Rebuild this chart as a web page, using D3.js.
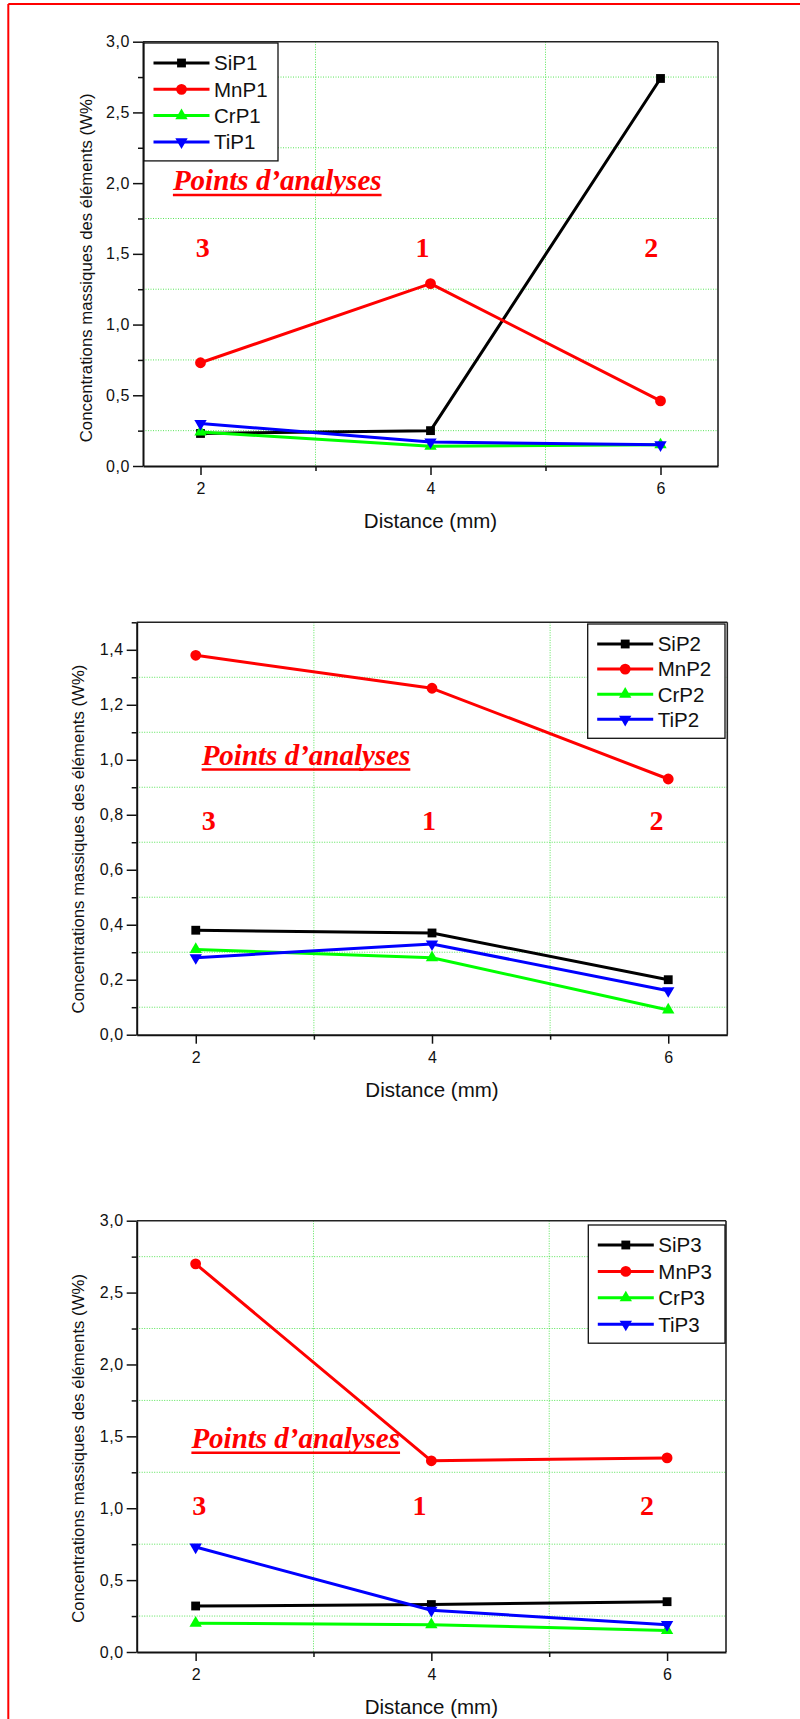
<!DOCTYPE html>
<html>
<head>
<meta charset="utf-8">
<script src="https://cdnjs.cloudflare.com/ajax/libs/d3/7.8.5/d3.min.js"></script>
<style>
  body { margin: 0; background: #fff; }
  svg { display: block; }
  .tick text { font-family: "Liberation Sans", Arial, sans-serif; fill: #111; }
</style>
</head>
<body>
<script>
// distances (mm)
var distance = [2, 4, 6];
var xTicks = [2, 4, 6];
var xMinor = [3, 5];

// chart 1
var names1 = ["SiP1", "MnP1", "CrP1", "TiP1"];
var si1 = [0.23, 0.25, 2.74];
var mn1 = [0.73, 1.29, 0.46];
var cr1 = [0.24, 0.14, 0.15];
var ti1 = [0.30, 0.17, 0.15];

// chart 2
var names2 = ["SiP2", "MnP2", "CrP2", "TiP2"];
var si2 = [0.38, 0.37, 0.20];
var mn2 = [1.38, 1.26, 0.93];
var cr2 = [0.31, 0.28, 0.09];
var ti2 = [0.28, 0.33, 0.16];

// chart 3
var names3 = ["SiP3", "MnP3", "CrP3", "TiP3"];
var si3 = [0.32, 0.33, 0.35];
var mn3 = [2.70, 1.33, 1.35];
var cr3 = [0.20, 0.19, 0.15];
var ti3 = [0.73, 0.29, 0.19];

var yTicksA = [0, 0.5, 1.0, 1.5, 2.0, 2.5, 3.0];
var yMinorA = [0.25, 0.75, 1.25, 1.75, 2.25, 2.75];
var yTicksB = [0, 0.2, 0.4, 0.6, 0.8, 1.0, 1.2, 1.4];
var yMinorB = [0.1, 0.3, 0.5, 0.7, 0.9, 1.1, 1.3, 1.5];

var pointLabels = ["3", "1", "2"];
var yTitle = "Concentrations massiques des éléments (W%)";
var xTitle = "Distance (mm)";
var noteText = "Points d’analyses";

var colors = ["#000000", "#ff0000", "#00ff00", "#0000ff"];
var symbols = [
  {type: d3.symbolSquare, size: 78, rot: 0},
  {type: d3.symbolCircle, size: 92, rot: 0},
  {type: d3.symbolTriangle, size: 66, rot: 0},
  {type: d3.symbolTriangle, size: 66, rot: 180}
];

var sans = '"Liberation Sans", Arial, sans-serif';
var serif = '"Liberation Serif", "Times New Roman", serif';

var charts = [
  {names: names1, series: [si1, mn1, cr1, ti1], yMax: 3, yTicks: yTicksA, yMinor: yMinorA,
   left: 143, right: 718, top: 41.7, bottom: 466,
   legend: {x: 144, y: 43, w: 134, step: 26.3},
   yTitleX: 86, yTitleShift: 14,
   note: {x: 1.76, y: 1.948}, nums: {x: [2.02, 3.93, 5.92], y: 1.478}},
  {names: names2, series: [si2, mn2, cr2, ti2], yMax: 1.5, yTicks: yTicksB, yMinor: yMinorB,
   left: 136.7, right: 727.3, top: 622.3, bottom: 1034.7,
   legend: {x: 587.7, y: 624, w: 137.3, step: 25.1},
   yTitleX: 78, yTitleShift: 10.5,
   note: {x: 2.05, y: 0.981}, nums: {x: [2.11, 3.975, 5.90], y: 0.744}},
  {names: names3, series: [si3, mn3, cr3, ti3], yMax: 3, yTicks: yTicksA, yMinor: yMinorA,
   left: 136.7, right: 726, top: 1220.7, bottom: 1652,
   legend: {x: 588.3, y: 1225, w: 136.7, step: 26.4},
   yTitleX: 78, yTitleShift: 12,
   note: {x: 1.964, y: 1.417}, nums: {x: [2.03, 3.90, 5.83], y: 0.953}}
];

var W = 800, H = 1719;
var svg = d3.select("body").append("svg")
    .attr("width", W)
    .attr("height", H);

// red frame
svg.append("line").attr("x1", 8.3).attr("x2", W).attr("y1", 4).attr("y2", 4)
    .attr("stroke", "#ff0000").attr("stroke-width", 2);
svg.append("line").attr("x1", 8.3).attr("x2", 8.3).attr("y1", 4).attr("y2", H)
    .attr("stroke", "#ff0000").attr("stroke-width", 2);

var fmt = function(v) { return d3.format(".1f")(v).replace(".", ","); };

charts.forEach(function(c) {
  var x = d3.scaleLinear().domain([1.5, 6.5]).range([c.left, c.right]);
  var y = d3.scaleLinear().domain([0, c.yMax]).range([c.bottom, c.top]);
  var g = svg.append("g");

  // grid
  g.selectAll("line.hgrid").data(c.yMinor.filter(function(v) { return v < c.yMax; }))
    .enter().append("line").attr("class", "hgrid")
    .attr("x1", c.left).attr("x2", c.right)
    .attr("y1", function(d) { return y(d); }).attr("y2", function(d) { return y(d); })
    .attr("stroke", "#22dd22").attr("stroke-width", 1).attr("stroke-dasharray", "1,1.5").attr("opacity", 0.75);
  g.selectAll("line.vgrid").data(xMinor)
    .enter().append("line").attr("class", "vgrid")
    .attr("y1", c.top).attr("y2", c.bottom)
    .attr("x1", function(d) { return x(d); }).attr("x2", function(d) { return x(d); })
    .attr("stroke", "#22dd22").attr("stroke-width", 1).attr("stroke-dasharray", "1,1.5").attr("opacity", 0.75);

  // box top / right
  g.append("line").attr("x1", c.left).attr("x2", c.right).attr("y1", c.top).attr("y2", c.top)
    .attr("stroke", "#222").attr("stroke-width", 1.6);
  g.append("line").attr("x1", c.right).attr("x2", c.right).attr("y1", c.top).attr("y2", c.bottom)
    .attr("stroke", "#222").attr("stroke-width", 1.6);

  // axes
  var ya = g.append("g").attr("transform", "translate(" + c.left + ",0)")
    .call(d3.axisLeft(y).tickValues(c.yTicks).tickSize(10).tickPadding(3).tickSizeOuter(0).tickFormat(fmt));
  ya.select(".domain").attr("stroke", "#111").attr("stroke-width", 2);
  ya.selectAll(".tick line").attr("stroke", "#111").attr("stroke-width", 1.5);
  ya.selectAll(".tick text").attr("font-size", 16).attr("letter-spacing", 0.6);

  var ym = g.append("g").attr("transform", "translate(" + c.left + ",0)")
    .call(d3.axisLeft(y).tickValues(c.yMinor).tickSize(5).tickFormat(""));
  ym.select(".domain").remove();
  ym.selectAll(".tick line").attr("stroke", "#111").attr("stroke-width", 1.5);

  var xa = g.append("g").attr("transform", "translate(0," + c.bottom + ")")
    .call(d3.axisBottom(x).tickValues(xTicks).tickSize(9).tickPadding(8).tickSizeOuter(0).tickFormat(d3.format("d")));
  xa.select(".domain").attr("stroke", "#111").attr("stroke-width", 2);
  xa.selectAll(".tick line").attr("stroke", "#111").attr("stroke-width", 1.5);
  xa.selectAll(".tick text").attr("font-size", 16);

  var xm = g.append("g").attr("transform", "translate(0," + c.bottom + ")")
    .call(d3.axisBottom(x).tickValues(xMinor).tickSize(5).tickFormat(""));
  xm.select(".domain").remove();
  xm.selectAll(".tick line").attr("stroke", "#111").attr("stroke-width", 1.5);

  // titles
  g.append("text")
    .attr("transform", "translate(" + c.yTitleX + "," + ((c.top + c.bottom) / 2 + c.yTitleShift) + ") rotate(-90)")
    .attr("text-anchor", "middle").attr("dominant-baseline", "central")
    .attr("font-family", sans).attr("font-size", 16.8).attr("fill", "#111")
    .text(yTitle);
  g.append("text")
    .attr("x", (c.left + c.right) / 2).attr("y", c.bottom + 62)
    .attr("text-anchor", "middle")
    .attr("font-family", sans).attr("font-size", 20.5).attr("fill", "#111")
    .text(xTitle);

  // annotation
  var note = g.append("text")
    .attr("x", x(c.note.x)).attr("y", y(c.note.y))
    .attr("font-family", serif).attr("font-size", 29).attr("font-weight", "bold").attr("font-style", "italic")
    .attr("fill", "#ff0000").text(noteText);
  var len = note.node().getComputedTextLength();
  g.append("line")
    .attr("x1", x(c.note.x)).attr("x2", x(c.note.x) + len)
    .attr("y1", y(c.note.y) + 4.5).attr("y2", y(c.note.y) + 4.5)
    .attr("stroke", "#ff0000").attr("stroke-width", 2.6);
  g.selectAll("text.num").data(pointLabels).enter().append("text").attr("class", "num")
    .attr("x", function(d, i) { return x(c.nums.x[i]); }).attr("y", y(c.nums.y))
    .attr("text-anchor", "middle")
    .attr("font-family", serif).attr("font-size", 28).attr("font-weight", "bold")
    .attr("fill", "#ff0000").text(function(d) { return d; });

  // series
  var line = d3.line().x(function(d) { return x(d[0]); }).y(function(d) { return y(d[1]); });
  c.series.forEach(function(vals, k) {
    var pts = distance.map(function(d, i) { return [d, vals[i]]; });
    var sg = g.append("g");
    sg.append("path").datum(pts).attr("d", line)
      .attr("fill", "none").attr("stroke", colors[k]).attr("stroke-width", 3).attr("stroke-linejoin", "round");
    sg.selectAll("path.mk").data(pts).enter().append("path").attr("class", "mk")
      .attr("d", d3.symbol().type(symbols[k].type).size(symbols[k].size))
      .attr("transform", function(d) { return "translate(" + x(d[0]) + "," + y(d[1]) + ") rotate(" + symbols[k].rot + ")"; })
      .attr("fill", colors[k]);
  });

  // legend
  var L = c.legend;
  var lg = g.append("g").attr("transform", "translate(" + L.x + "," + L.y + ")");
  lg.append("rect").attr("width", L.w).attr("height", 3 * L.step + 39)
    .attr("fill", "#fff").attr("stroke", "#111").attr("stroke-width", 1.3);
  c.names.forEach(function(n, k) {
    var yy = 20 + k * L.step;
    lg.append("line").attr("x1", 9.5).attr("x2", 65.5).attr("y1", yy).attr("y2", yy)
      .attr("stroke", colors[k]).attr("stroke-width", 3);
    lg.append("path").attr("d", d3.symbol().type(symbols[k].type).size(symbols[k].size))
      .attr("transform", "translate(37.5," + yy + ") rotate(" + symbols[k].rot + ")")
      .attr("fill", colors[k]);
    lg.append("text").attr("x", 70).attr("y", yy).attr("dy", "0.36em")
      .attr("font-family", sans).attr("font-size", 20.5).attr("fill", "#111").text(n);
  });
});
</script>
</body>
</html>
